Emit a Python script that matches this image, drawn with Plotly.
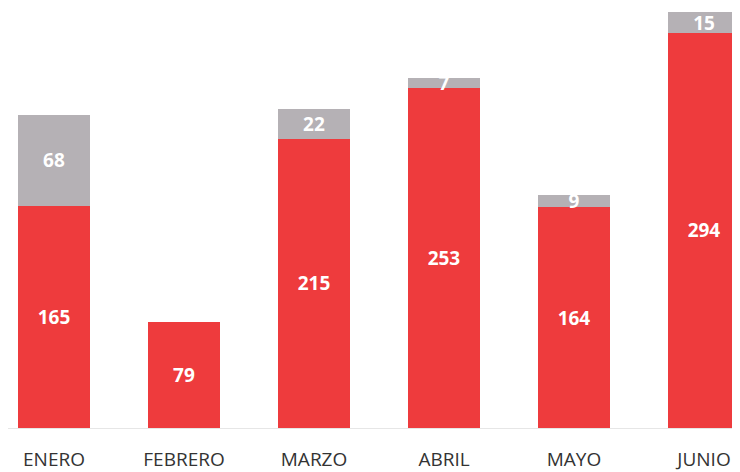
import plotly.graph_objects as go

months = ["ENERO", "FEBRERO", "MARZO", "ABRIL", "MAYO", "JUNIO"]
red_values = [165, 79, 215, 253, 164, 294]
gray_values = [68, None, 22, 7, 9, 15]

fig = go.Figure()
fig.add_trace(go.Bar(
    x=months, y=red_values, marker=dict(color="#ee3b3d", line=dict(width=0)),
    text=red_values, textposition="inside", insidetextanchor="middle", textangle=0,
    textfont=dict(color="white", size=19, family="Open Sans", weight="bold"),
    showlegend=False, cliponaxis=False,
))
fig.add_trace(go.Bar(
    x=months, y=gray_values, marker=dict(color="#b5b1b5", line=dict(width=0)),
    text=gray_values, textposition="inside", insidetextanchor="middle", textangle=0,
    textfont=dict(color="white", size=19, family="Open Sans", weight="bold"),
    showlegend=False, cliponaxis=False,
))
fig.update_layout(
    barmode="stack", bargap=0.446,
    width=732, height=464,
    margin=dict(l=0, r=0, t=0, b=44, autoexpand=False),
    paper_bgcolor="white", plot_bgcolor="white",
    uniformtext=dict(minsize=19, mode="show"),
    xaxis=dict(range=[-0.354, 5.277], showgrid=False, showline=True, linecolor="#e6e6e6",
               linewidth=1, ticks="", ticklabelstandoff=14, automargin=False,
               tickfont=dict(size=19, color="#333333", family="Open Sans")),
    yaxis=dict(range=[0, 312.3], showgrid=False, showticklabels=False, zeroline=False,
               ticks="", automargin=False),
)
fig.write_html("out.html")
